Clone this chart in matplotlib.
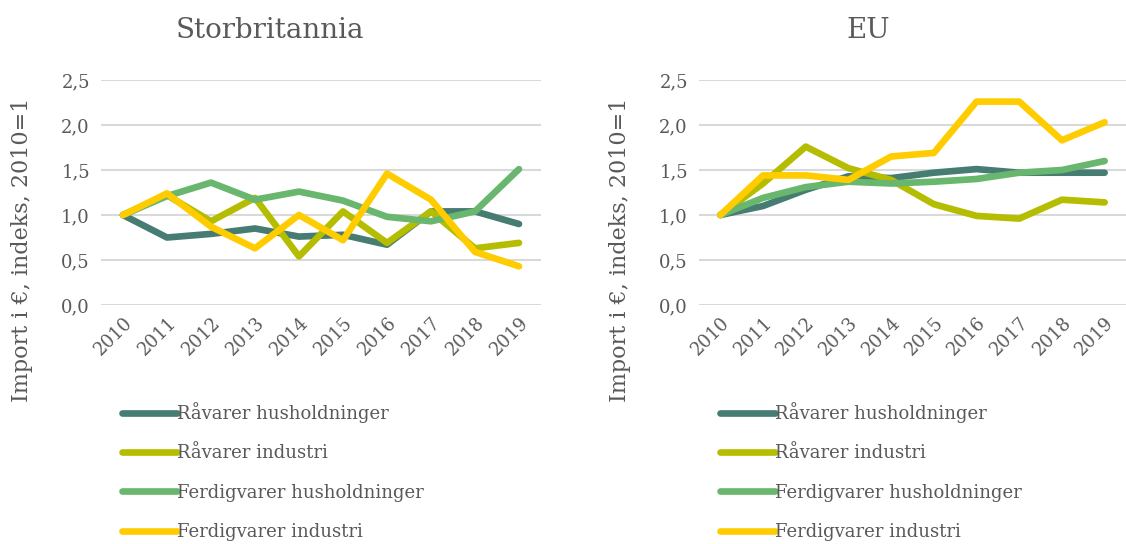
import matplotlib
matplotlib.use("Agg")
import matplotlib.pyplot as plt
from matplotlib.lines import Line2D

years = [str(y) for y in range(2010, 2020)]
series_names = ["Råvarer husholdninger", "Råvarer industri",
                "Ferdigvarer husholdninger", "Ferdigvarer industri"]
colors = ["#467C72", "#B5BD00", "#69B66E", "#FFCC00"]

uk_ravarer_hush = [1.00, 0.75, 0.79, 0.85, 0.76, 0.78, 0.67, 1.04, 1.04, 0.90]
uk_ravarer_ind = [1.00, 1.22, 0.93, 1.19, 0.54, 1.04, 0.69, 1.04, 0.63, 0.69]
uk_ferdig_hush = [1.00, 1.21, 1.36, 1.17, 1.26, 1.16, 0.98, 0.93, 1.04, 1.51]
uk_ferdig_ind = [1.00, 1.24, 0.87, 0.63, 1.00, 0.72, 1.46, 1.17, 0.59, 0.43]

eu_ravarer_hush = [1.00, 1.10, 1.28, 1.43, 1.41, 1.47, 1.51, 1.47, 1.47, 1.47]
eu_ravarer_ind = [1.00, 1.35, 1.76, 1.52, 1.39, 1.12, 0.99, 0.96, 1.17, 1.14]
eu_ferdig_hush = [1.00, 1.19, 1.31, 1.37, 1.35, 1.37, 1.40, 1.47, 1.50, 1.60]
eu_ferdig_ind = [1.00, 1.44, 1.44, 1.39, 1.65, 1.69, 2.26, 2.26, 1.83, 2.03]

yticks = [0.0, 0.5, 1.0, 1.5, 2.0, 2.5]
ytick_labels = ["0,0", "0,5", "1,0", "1,5", "2,0", "2,5"]
ylabel = "Import i €, indeks, 2010=1"
titles = ["Storbritannia", "EU"]

FONT = "DejaVu Serif"
TXT = "#595959"

fig = plt.figure(figsize=(11.26, 5.44), dpi=100)
W, H = 1126, 544

def ax_rect(x0, x1, ytop, ybot):
    return [x0 / W, 1 - ybot / H, (x1 - x0) / W, (ybot - ytop) / H]

panels = [
    (titles[0], [uk_ravarer_hush, uk_ravarer_ind, uk_ferdig_hush, uk_ferdig_ind],
     ax_rect(101, 541, 80, 305), 270, 22, 128),
    (titles[1], [eu_ravarer_hush, eu_ravarer_ind, eu_ferdig_hush, eu_ferdig_ind],
     ax_rect(699, 1126, 80, 305), 868, 620, 726),
]

for title, data, rect, tx, ylx, legx in panels:
    ax = fig.add_axes(rect)
    x = range(len(years))
    for vals, c, n in zip(data, colors, series_names):
        ax.plot(x, vals, color=c, lw=4.8, solid_capstyle="round",
                solid_joinstyle="round", label=n)
    ax.set_ylim(0, 2.5)
    ax.set_xlim(-0.5, len(years) - 0.5)
    ax.set_yticks(yticks)
    ax.set_yticklabels(ytick_labels, fontfamily=FONT, fontsize=13, color=TXT)
    ax.set_xticks(list(x))
    ax.set_xticklabels(years, rotation=45, ha="right", va="top",
                       rotation_mode="anchor", fontfamily=FONT, fontsize=13,
                       color=TXT)
    ax.tick_params(length=0, pad=8)
    ax.tick_params(axis="x", pad=6)
    for s in ax.spines.values():
        s.set_visible(False)
    ax.grid(axis="y", color="#D9D9D9", lw=1.5)
    ax.set_axisbelow(True)
    fig.text(tx / W, 1 - 30 / H, title, ha="center", va="center",
             fontfamily=FONT, fontsize=20, color=TXT)
    fig.text(ylx / W, 1 - 250 / H, ylabel, rotation=90, ha="center",
             va="center", fontfamily=FONT, fontsize=16, color=TXT)
    handles = [Line2D([0], [0], color=c, lw=4.8, solid_capstyle="round")
               for c in colors]
    leg = fig.legend(handles, series_names, loc="upper left",
                     bbox_to_anchor=(legx / W - 0.005, 1 - 402 / H),
                     frameon=False, handlelength=3.0, handletextpad=0.0,
                     labelspacing=1.18, prop={"family": FONT, "size": 13},
                     borderaxespad=0, borderpad=0)
    for t in leg.get_texts():
        t.set_color(TXT)

fig.savefig("out.png", dpi=100, facecolor="white")
